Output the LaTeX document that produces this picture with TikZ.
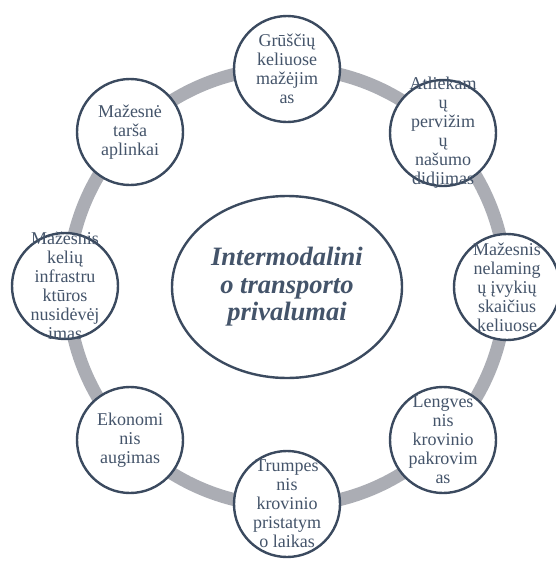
\documentclass[tikz,border=0pt]{standalone}
\usepackage{fontspec}
\setmainfont{Liberation Serif}
\usetikzlibrary{shapes.geometric}
\definecolor{ringgray}{HTML}{ABADB4}
\definecolor{rimblue}{HTML}{3B4A5F}
\definecolor{inkblue}{HTML}{44546A}

\begin{document}
\begin{tikzpicture}[x=1pt,y=-1pt,
  sat/.style={circle, draw=rimblue, line width=2.4pt, fill=white,
    minimum size=106pt, inner sep=0pt},
  sattext/.style={align=center, text=inkblue,
    font=\fontsize{18}{19}\selectfont, inner sep=0pt},
  hub/.style={ellipse, draw=rimblue, line width=2.4pt, fill=white,
    minimum width=230pt, minimum height=182pt, inner sep=0pt},
  hubtext/.style={align=center, text=inkblue,
    font=\fontsize{26.5}{27.5}\selectfont\bfseries\itshape, inner sep=0pt},
  ring/.style={draw=ringgray, line width=13pt}]
\useasboundingbox (0,0) rectangle (555,565);

% the cycle ring behind the satellites
\coordinate (c) at (287,287);
\draw[ring] (c) circle (219pt);

% central ellipse
\node[hub] (hub) at (c) {};
\node[hubtext] (hubt) at (hub) {Intermodalini\\o transporto\\privalumai};

% satellites, clockwise from the top
\node[sat] (n1) at (287,69) {};
\node[sattext] (t1) at (n1) {Grūščių\\keliuose\\mažėjim\\as};

\node[sat] (n2) at (443,133) {};
\node[sattext] (t2) at (n2) {Atliekam\\ų\\pervižim\\ų\\našumo\\didjimas};

\node[sat] (n3) at (507,287) {};
\node[sattext] (t3) at (n3) {Mažesnis\\nelaming\\ų įvykių\\skaičius\\keliuose};

\node[sat] (n4) at (443,440) {};
\node[sattext] (t4) at (n4) {Lengves\\nis\\krovinio\\pakrovim\\as};

\node[sat] (n5) at (287,504) {};
\node[sattext] (t5) at (n5) {Trumpes\\nis\\krovinio\\pristatym\\o laikas};

\node[sat] (n6) at (130,440) {};
\node[sattext] (t6) at (n6) {Ekonomi\\nis\\augimas};

\node[sat] (n7) at (65,286) {};
\node[sattext] (t7) at (n7) {Mažesnis\\kelių\\infrastru\\ktūros\\nusidėvėj\\imas};

\node[sat] (n8) at (130,132) {};
\node[sattext] (t8) at (n8) {Mažesnė\\tarša\\aplinkai};
\end{tikzpicture}
\end{document}
